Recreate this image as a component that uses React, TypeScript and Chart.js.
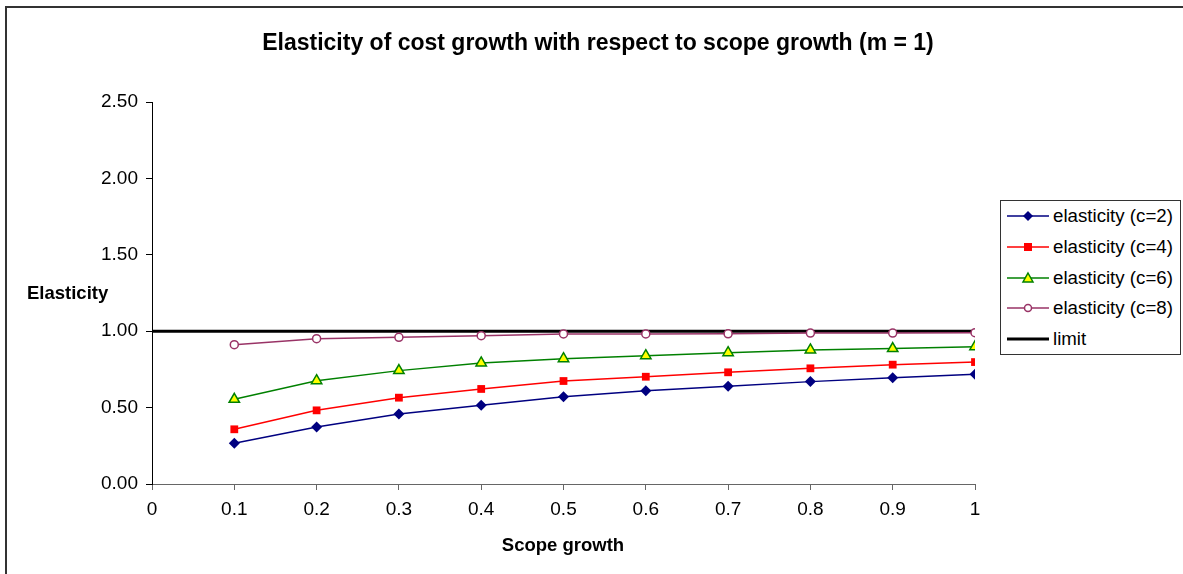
import React, { useEffect, useRef } from "react";
import { Chart, registerables } from "chart.js";

Chart.register(...registerables);

const xValues = [0.1, 0.2, 0.3, 0.4, 0.5, 0.6, 0.7, 0.8, 0.9, 1.0];
const limitX = [0, 0.1, 0.2, 0.3, 0.4, 0.5, 0.6, 0.7, 0.8, 0.9, 1.0];
const elasticityC2 = [0.266, 0.373, 0.458, 0.515, 0.571, 0.611, 0.639, 0.67, 0.696, 0.718];
const elasticityC4 = [0.358, 0.482, 0.565, 0.622, 0.674, 0.702, 0.731, 0.757, 0.781, 0.798];
const elasticityC6 = [0.554, 0.676, 0.742, 0.792, 0.82, 0.84, 0.859, 0.877, 0.886, 0.899];
const elasticityC8 = [0.912, 0.951, 0.96, 0.971, 0.982, 0.982, 0.983, 0.988, 0.988, 0.99];
const limitValues = [1, 1, 1, 1, 1, 1, 1, 1, 1, 1, 1];
const seriesNames = ["elasticity (c=2)", "elasticity (c=4)", "elasticity (c=6)", "elasticity (c=8)", "limit"];

const titleText = "Elasticity of cost growth with respect to scope growth (m = 1)";
const xTitle = "Scope growth";
const yTitle = "Elasticity";

const FONT = "'Liberation Sans', Arial, sans-serif";

const toPts = (xs: number[], ys: number[]) => xs.map((x, i) => ({ x, y: ys[i] }));

function LegendMarker({ idx }: { idx: number }) {
  const w = 42;
  const h = 14;
  const cy = 7;
  const cx = 21;
  if (idx === 0)
    return (
      <svg width={w} height={h}>
        <line x1={0} y1={cy} x2={w} y2={cy} stroke="#000080" strokeWidth={1.5} />
        <polygon points={`${cx},${cy - 5} ${cx + 5},${cy} ${cx},${cy + 5} ${cx - 5},${cy}`} fill="#000080" />
      </svg>
    );
  if (idx === 1)
    return (
      <svg width={w} height={h}>
        <line x1={0} y1={cy} x2={w} y2={cy} stroke="#FF0000" strokeWidth={1.5} />
        <rect x={cx - 4} y={cy - 4} width={8} height={8} fill="#FF0000" />
      </svg>
    );
  if (idx === 2)
    return (
      <svg width={w} height={h}>
        <line x1={0} y1={cy} x2={w} y2={cy} stroke="#008000" strokeWidth={1.5} />
        <polygon points={`${cx},${cy - 5} ${cx + 5},${cy + 4} ${cx - 5},${cy + 4}`} fill="#FFFF00" stroke="#008000" strokeWidth={1.5} />
      </svg>
    );
  if (idx === 3)
    return (
      <svg width={w} height={h}>
        <line x1={0} y1={cy} x2={w} y2={cy} stroke="#993366" strokeWidth={1.5} />
        <circle cx={cx} cy={cy} r={3.5} fill="#fff" stroke="#993366" strokeWidth={1.5} />
      </svg>
    );
  return (
    <svg width={w} height={h}>
      <line x1={0} y1={cy} x2={w} y2={cy} stroke="#000" strokeWidth={3} />
    </svg>
  );
}

export default function App() {
  const ref = useRef<HTMLCanvasElement | null>(null);

  useEffect(() => {
    if (!ref.current) return;
    const chart = new Chart(ref.current, {
      type: "line",
      data: {
        datasets: [
          {
            label: seriesNames[0],
            data: toPts(xValues, elasticityC2),
            borderColor: "#000080",
            backgroundColor: "#000080",
            borderWidth: 1.5,
            pointStyle: "rectRot",
            pointRadius: 5.5,
            pointBorderWidth: 0,
          },
          {
            label: seriesNames[1],
            data: toPts(xValues, elasticityC4),
            borderColor: "#FF0000",
            backgroundColor: "#FF0000",
            borderWidth: 1.5,
            pointStyle: "rect",
            pointRadius: 5.5,
            pointBorderWidth: 0,
          },
          {
            label: seriesNames[2],
            data: toPts(xValues, elasticityC6),
            borderColor: "#008000",
            backgroundColor: "#FFFF00",
            borderWidth: 1.5,
            pointStyle: "triangle",
            pointRadius: 6,
            pointBorderWidth: 1.5,
            pointBorderColor: "#008000",
          },
          {
            label: seriesNames[3],
            data: toPts(xValues, elasticityC8),
            borderColor: "#993366",
            backgroundColor: "#ffffff",
            borderWidth: 1.5,
            pointStyle: "circle",
            pointRadius: 4,
            pointBorderWidth: 1.5,
            pointBorderColor: "#993366",
          },
          {
            label: seriesNames[4],
            data: toPts(limitX, limitValues),
            borderColor: "#000000",
            backgroundColor: "#000000",
            borderWidth: 3,
            pointRadius: 0,
          },
        ],
      },
      options: {
        animation: false,
        responsive: false,
        maintainAspectRatio: false,
        layout: { padding: { left: 72, right: 208, top: 102, bottom: 50 } },
        plugins: {
          legend: { display: false },
          title: { display: false },
          tooltip: { enabled: false },
        },
        scales: {
          x: {
            type: "linear",
            min: 0,
            max: 1,
            ticks: {
              stepSize: 0.1,
              color: "#000",
              font: { family: FONT, size: 19 },
              padding: 8,
              callback: (v: any) => String(Number(Number(v).toFixed(1))),
            },
            grid: { display: true, drawOnChartArea: false, drawTicks: true, tickLength: 6, color: "#666", lineWidth: 1 },
            border: { display: true, color: "#666", width: 1 },
            afterFit: (s: any) => {
              s.height = 40;
              s.paddingLeft = 0;
              s.paddingRight = 0;
            },
          },
          y: {
            type: "linear",
            min: 0,
            max: 2.5,
            ticks: {
              stepSize: 0.5,
              color: "#000",
              font: { family: FONT, size: 19 },
              padding: 8,
              callback: (v: any) => Number(v).toFixed(2),
            },
            grid: { display: true, drawOnChartArea: false, drawTicks: true, tickLength: 6, color: "#000", lineWidth: 1 },
            border: { display: true, color: "#000", width: 1 },
            afterFit: (s: any) => {
              s.width = 80;
              s.paddingTop = 0;
              s.paddingBottom = 0;
            },
          },
        },
      },
    });
    return () => chart.destroy();
  }, []);

  return (
    <div style={{ position: "fixed", left: 0, top: 0, width: 1183, height: 574, overflow: "hidden", background: "#fff", fontFamily: FONT }}>
      <div style={{ position: "absolute", left: 5, top: 6, width: 1200, height: 600, border: "2px solid #333", boxSizing: "border-box" }} />
      <canvas ref={ref} width={1183} height={574} style={{ position: "absolute", left: 0, top: 0, width: 1183, height: 574 }} />
      <div style={{ position: "absolute", left: 0, width: 1196, top: 28, textAlign: "center", fontWeight: "bold", fontSize: 23, lineHeight: "28px", color: "#000" }}>
        {titleText}
      </div>
      <div style={{ position: "absolute", left: 27, top: 282, fontWeight: "bold", fontSize: 18.5, lineHeight: "22px", color: "#000" }}>{yTitle}</div>
      <div style={{ position: "absolute", left: 363, width: 400, top: 534, textAlign: "center", fontWeight: "bold", fontSize: 18.5, lineHeight: "22px", color: "#000" }}>
        {xTitle}
      </div>
      <div style={{ position: "absolute", left: 1000, top: 200, width: 181, height: 155, border: "1.5px solid #333", boxSizing: "border-box", background: "#fff" }}>
        {seriesNames.map((n, i) => (
          <div key={n} style={{ position: "absolute", left: 6, top: 4 + i * 30.8, height: 22, display: "flex", alignItems: "center", whiteSpace: "nowrap" }}>
            <LegendMarker idx={i} />
            <span style={{ marginLeft: 4, fontSize: 18.7, color: "#000" }}>{n}</span>
          </div>
        ))}
      </div>
    </div>
  );
}
